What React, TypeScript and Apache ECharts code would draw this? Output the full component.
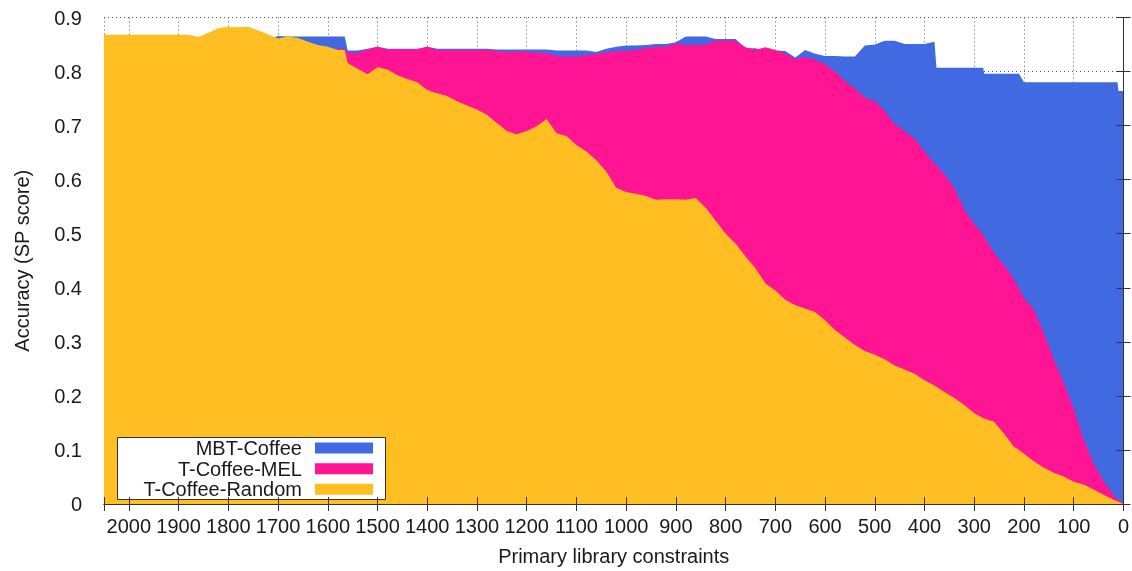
import { useEffect, useRef } from 'react';
import * as echarts from 'echarts';

// Primary library constraints (x values, shared by all series)
const constraints = [
  2050, 2040, 2020, 2000, 1980, 1960, 1940, 1920, 1900, 1880,
  1860, 1840, 1820, 1800, 1780, 1760, 1740, 1720, 1700, 1680,
  1660, 1640, 1620, 1600, 1580, 1566, 1560, 1540, 1520, 1500,
  1480, 1460, 1440, 1420, 1400, 1380, 1360, 1340, 1320, 1300,
  1280, 1260, 1240, 1220, 1200, 1180, 1160, 1140, 1120, 1100,
  1080, 1060, 1040, 1020, 1000, 980, 960, 940, 920, 900,
  880, 860, 840, 820, 800, 780, 760, 740, 720, 700,
  680, 660, 640, 620, 600, 580, 560, 540, 520, 500,
  480, 460, 440, 420, 400, 380, 376, 360, 340, 320,
  300, 282, 280, 260, 240, 220, 210, 200, 180, 160,
  140, 120, 100, 80, 60, 40, 20, 12, 10, 0,
];

const mbtCoffee = [
  0.860, 0.860, 0.860, 0.860, 0.860, 0.860, 0.860, 0.860, 0.860, 0.860,
  0.860, 0.860, 0.860, 0.860, 0.860, 0.860, 0.860, 0.860, 0.866, 0.865,
  0.865, 0.865, 0.865, 0.865, 0.865, 0.865, 0.839, 0.839, 0.842, 0.846,
  0.842, 0.842, 0.842, 0.842, 0.846, 0.842, 0.842, 0.842, 0.842, 0.842,
  0.842, 0.841, 0.841, 0.841, 0.841, 0.841, 0.841, 0.839, 0.839, 0.839,
  0.839, 0.836, 0.842, 0.846, 0.848, 0.848, 0.849, 0.851, 0.851, 0.854,
  0.865, 0.865, 0.865, 0.860, 0.860, 0.860, 0.843, 0.843, 0.839, 0.839,
  0.838, 0.826, 0.840, 0.833, 0.829, 0.829, 0.828, 0.828, 0.848, 0.850,
  0.857, 0.857, 0.851, 0.851, 0.851, 0.855, 0.807, 0.807, 0.807, 0.807,
  0.807, 0.807, 0.796, 0.796, 0.796, 0.796, 0.796, 0.780, 0.780, 0.780,
  0.780, 0.780, 0.780, 0.780, 0.780, 0.780, 0.780, 0.780, 0.764, 0.764,
];

const tCoffeeMel = [
  0.835, 0.835, 0.835, 0.835, 0.835, 0.835, 0.835, 0.835, 0.835, 0.835,
  0.835, 0.835, 0.835, 0.835, 0.835, 0.835, 0.835, 0.835, 0.835, 0.835,
  0.835, 0.835, 0.835, 0.835, 0.842, 0.842, 0.835, 0.835, 0.841, 0.846,
  0.841, 0.841, 0.841, 0.841, 0.846, 0.840, 0.840, 0.840, 0.840, 0.840,
  0.840, 0.838, 0.836, 0.837, 0.836, 0.835, 0.834, 0.829, 0.828, 0.828,
  0.830, 0.833, 0.835, 0.838, 0.838, 0.840, 0.843, 0.846, 0.846, 0.852,
  0.849, 0.849, 0.850, 0.857, 0.857, 0.857, 0.845, 0.840, 0.845, 0.840,
  0.833, 0.823, 0.827, 0.822, 0.813, 0.800, 0.782, 0.768, 0.752, 0.745,
  0.727, 0.703, 0.690, 0.676, 0.652, 0.630, 0.627, 0.610, 0.584, 0.545,
  0.518, 0.497, 0.494, 0.465, 0.441, 0.416, 0.398, 0.380, 0.360, 0.316,
  0.268, 0.224, 0.176, 0.120, 0.075, 0.042, 0.016, 0.010, 0.008, 0,
];

const tCoffeeRandom = [
  0.868, 0.868, 0.868, 0.868, 0.868, 0.868, 0.868, 0.868, 0.868, 0.868,
  0.864, 0.872, 0.880, 0.883, 0.882, 0.883, 0.876, 0.869, 0.861, 0.865,
  0.862, 0.855, 0.849, 0.846, 0.840, 0.840, 0.816, 0.805, 0.795, 0.808,
  0.804, 0.793, 0.786, 0.780, 0.766, 0.760, 0.755, 0.745, 0.737, 0.730,
  0.720, 0.705, 0.690, 0.684, 0.690, 0.699, 0.712, 0.686, 0.681, 0.664,
  0.652, 0.636, 0.615, 0.585, 0.577, 0.574, 0.570, 0.563, 0.564, 0.564,
  0.563, 0.566, 0.548, 0.524, 0.500, 0.482, 0.458, 0.436, 0.408, 0.395,
  0.378, 0.368, 0.361, 0.355, 0.340, 0.322, 0.308, 0.294, 0.283, 0.276,
  0.268, 0.256, 0.249, 0.241, 0.229, 0.219, 0.217, 0.207, 0.196, 0.183,
  0.168, 0.159, 0.158, 0.152, 0.130, 0.106, 0.100, 0.093, 0.079, 0.067,
  0.058, 0.051, 0.041, 0.036, 0.027, 0.017, 0.008, 0.005, 0.004, 0,
];

const seriesNames = ['MBT-Coffee', 'T-Coffee-MEL', 'T-Coffee-Random'];
const seriesValues = [mbtCoffee, tCoffeeMel, tCoffeeRandom];
const seriesColors = ['#4169e1', '#ff1493', '#ffbe22'];

const FONT = '"Liberation Sans", Arial, Helvetica, sans-serif';
const TEXT = '#1a1a1a';
const BORDER = '#333333';

export default function App() {
  const ref = useRef<HTMLDivElement>(null);

  useEffect(() => {
    const chart = echarts.init(ref.current!, null, { renderer: 'svg' });

    const xScale = { type: 'value', min: 0, max: 2050, interval: 100, inverse: true };
    const yScale = { type: 'value', min: 0, max: 0.9, interval: 0.1 };
    const tick = { show: true, inside: true, length: 7, lineStyle: { color: BORDER, width: 1 } };
    const line = { show: true, lineStyle: { color: BORDER, width: 1 } };
    const labelStyle = { fontSize: 20, color: TEXT, fontFamily: FONT };
    const dotted = { show: true, lineStyle: { type: [1, 3], color: '#555', width: 1 } };

    const legendTops = [438, 458.7, 479.3];

    chart.setOption({
      animation: false,
      grid: { left: 104, right: 4.5, top: 17.5, bottom: 64, containLabel: false },
      xAxis: [
        {
          ...xScale, position: 'bottom', z: 10,
          axisLine: line, axisTick: tick, splitLine: { show: false },
          axisLabel: { ...labelStyle, margin: 12, formatter: (v: number) => (v > 2000 ? '' : String(v)) },
          name: 'Primary library constraints', nameLocation: 'middle', nameGap: 42,
          nameTextStyle: labelStyle,
        },
        {
          ...xScale, position: 'top', z: 10,
          axisLine: line, axisTick: tick, axisLabel: { show: false }, splitLine: { show: false },
        },
        {
          ...xScale, position: 'bottom', z: 0,
          axisLine: { show: false }, axisTick: { show: false }, axisLabel: { show: false },
          splitLine: dotted,
        },
      ],
      yAxis: [
        {
          ...yScale, position: 'left', z: 10,
          axisLine: line, axisTick: tick, splitLine: { show: false },
          axisLabel: { ...labelStyle, margin: 22 },
          name: 'Accuracy (SP score)', nameLocation: 'middle', nameGap: 72, nameRotate: 90,
          nameTextStyle: labelStyle,
        },
        {
          ...yScale, position: 'right', z: 10,
          axisLine: line, axisTick: tick, axisLabel: { show: false }, splitLine: { show: false },
        },
        {
          ...yScale, position: 'left', z: 0,
          axisLine: { show: false }, axisTick: { show: false }, axisLabel: { show: false },
          splitLine: dotted,
        },
      ],
      legend: seriesNames.map((name, i) => ({
        data: [name],
        orient: 'vertical',
        right: 759,
        top: legendTops[i],
        align: 'right',
        icon: 'rect',
        itemWidth: 58,
        itemHeight: 11,
        padding: 0,
        selectedMode: false,
        z: 6,
        textStyle: { ...labelStyle, lineHeight: 20, padding: [0, 8, 0, 0] },
      })),
      graphic: [
        {
          type: 'rect',
          z: 4,
          shape: { x: 117.5, y: 437.5, width: 268, height: 62 },
          style: { fill: '#ffffff', stroke: BORDER, lineWidth: 1 },
        },
      ],
      series: seriesNames.map((name, i) => ({
        type: 'line',
        name,
        xAxisIndex: 0,
        yAxisIndex: 0,
        data: constraints.map((x, k) => [x, seriesValues[i][k]]),
        showSymbol: false,
        symbol: 'none',
        silent: true,
        color: seriesColors[i],
        itemStyle: { color: seriesColors[i] },
        lineStyle: { width: 0, color: seriesColors[i] },
        areaStyle: { color: seriesColors[i], opacity: 1 },
        z: 2,
      })),
    });

    return () => chart.dispose();
  }, []);

  return (
    <div
      ref={ref}
      style={{ position: 'fixed', left: 0, top: 0, width: 1132, height: 571 }}
    />
  );
}
